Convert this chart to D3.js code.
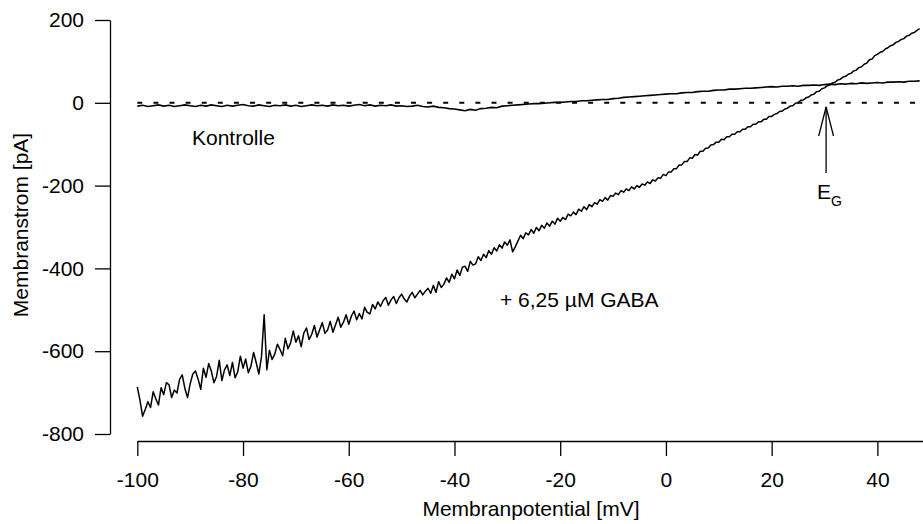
<!DOCTYPE html>
<html>
<head>
<meta charset="utf-8">
<script src="https://cdn.jsdelivr.net/npm/d3@7"></script>
<style>
  body { margin: 0; background: white; }
  text { font-family: "Liberation Sans", Arial, sans-serif; }
</style>
</head>
<body>
<script>
// voltage ramp: first sample and step in mV
var rampStart = -100, rampStep = 0.5, controlStep = 1;

// current with 6,25 µM GABA, one value every 0.5 mV (pA)
var gabaCurrent = [
  -686, -718, -757, -741, -722, -736, -698, -715, -730, -688, -705, -676,
  -681, -712, -694, -701, -668, -657, -690, -712, -679, -655, -648, -667,
  -692, -641, -663, -630, -648, -676, -661, -622, -671, -645, -633, -659,
  -627, -664, -650, -612, -641, -619, -652, -636, -603, -628, -655, -612,
  -512, -645, -598, -620, -607, -583, -596, -611, -569, -594, -580, -551,
  -578, -563, -589, -556, -544, -572, -559, -538, -566, -548, -531, -557,
  -549, -528, -554, -536, -518, -542, -530, -512, -535, -515, -503, -524,
  -509, -522, -494, -506, -510, -487, -498, -481, -492, -478, -470, -489,
  -476, -468, -485, -471, -462, -474, -481, -467, -458, -471, -462, -453,
  -464, -455, -448, -460, -441, -458, -432, -446, -438, -423, -434, -414,
  -425, -404, -417, -397, -395, -407, -383, -392, -389, -372, -381, -366,
  -374, -357, -366, -350, -358, -343, -351, -336, -344, -331, -360, -348,
  -334, -320, -328, -314, -319, -306, -315, -301, -309, -296, -303, -290,
  -298, -286, -293, -279, -286, -277, -282, -269, -273, -264, -270, -257,
  -262, -251, -258, -246, -251, -241, -245, -234, -238, -229, -235, -224,
  -226, -218, -222, -212, -216, -208, -212, -203, -208, -200, -204, -196,
  -199, -191, -195, -186, -189, -181, -182, -173, -176, -167, -167, -159,
  -159, -150, -150, -142, -142, -133, -134, -125, -126, -117, -117, -110,
  -109, -102, -101, -95, -95, -88, -89, -82, -82, -76, -76, -70,
  -70, -64, -64, -58, -58, -52, -52, -46, -46, -40, -40, -33,
  -33, -28, -26, -21, -20, -15, -13, -8, -7, -1, 0, 6,
  7, 12, 14, 19, 21, 27, 28, 34, 36, 41, 43, 48,
  50, 55, 57, 62, 64, 69, 71, 77, 79, 85, 87, 93,
  96, 104, 106, 114, 117, 122, 124, 130, 133, 138, 140, 146,
  148, 153, 155, 161, 163, 168, 170, 175, 179
];

// control current, one value every 1 mV (pA)
var controlCurrent = [
  -8, -6, -9, -7, -5, -8, -6, -9, -7, -5,
  -7, -9, -6, -8, -5, -7, -9, -6, -8, -6,
  -4, -7, -8, -5, -7, -9, -6, -7, -5, -8,
  -6, -9, -7, -5, -7, -6, -8, -5, -7, -6,
  -8, -6, -4, -7, -5, -8, -6, -7, -5, -8,
  -7, -9, -8, -6, -9, -10, -8, -11, -12, -14,
  -15, -17, -19, -16, -18, -14, -13, -11, -12, -8,
  -7, -6, -5, -4, -3, -2, -2, -1, 0, 1,
  1, 2, 3, 3, 5, 5, 6, 7, 8, 8,
  10, 11, 13, 14, 15, 16, 17, 18, 19, 20,
  21, 22, 22, 24, 25, 25, 27, 28, 28, 30,
  31, 31, 33, 33, 34, 35, 35, 36, 37, 38,
  39, 38, 40, 40, 41, 40, 42, 42, 43, 42,
  44, 45, 44, 46, 45, 47, 46, 48, 47, 48,
  49, 48, 50, 50, 51, 50, 52, 52, 53
];

var xTicks = [-100, -80, -60, -40, -20, 0, 20, 40];
var yTicks = [-800, -600, -400, -200, 0, 200];

var width = 923, height = 524;

var svg = d3.select("body").append("svg")
            .attr("width", width).attr("height", height)
            .style("background", "white");

var x = d3.scaleLinear().domain([-100, 48.63]).range([137.3, 923]);
var y = d3.scaleLinear().domain([-800, 200]).range([434, 20]);

// axes, plain hyphen for negative numbers
var fmt = function(d){ return String(d); };
svg.append("g").attr("transform", "translate(0,441)")
   .call(d3.axisBottom(x).tickValues(xTicks).tickFormat(fmt).tickSize(15).tickSizeOuter(0).tickPadding(16));
svg.append("g").attr("transform", "translate(110,0)")
   .call(d3.axisLeft(y).tickValues(yTicks).tickFormat(fmt).tickSize(15).tickSizeOuter(0).tickPadding(11));

svg.selectAll(".tick text").attr("font-size", "21px").attr("font-family", "Liberation Sans, Arial, sans-serif").attr("fill", "#000");
svg.selectAll(".domain, .tick line").attr("stroke", "#000").attr("stroke-width", 1.3);

svg.append("text")
   .attr("x", 531).attr("y", 516)
   .attr("text-anchor", "middle").attr("font-size", "21px")
   .text("Membranpotential [mV]");

svg.append("text")
   .attr("transform", "translate(28,225) rotate(-90)")
   .attr("text-anchor", "middle").attr("font-size", "21px")
   .text("Membranstrom [pA]");

// dotted zero line
svg.append("line")
   .attr("x1", x(-100)).attr("x2", width)
   .attr("y1", y(0)).attr("y2", y(0))
   .attr("stroke", "#000").attr("stroke-width", 2)
   .attr("stroke-dasharray", "5,11.1");

var lineGaba = d3.line()
                 .x(function(d, i){ return x(rampStart + i * rampStep); })
                 .y(function(d){ return y(d); });
var lineControl = d3.line()
                    .x(function(d, i){ return x(rampStart + i * controlStep); })
                    .y(function(d){ return y(d); });

svg.append("path").datum(controlCurrent)
   .attr("d", lineControl).attr("fill", "none")
   .attr("stroke", "#000").attr("stroke-width", 1.6);

svg.append("path").datum(gabaCurrent)
   .attr("d", lineGaba).attr("fill", "none")
   .attr("stroke", "#000").attr("stroke-width", 1.5)
   .attr("stroke-linejoin", "round");

// labels
svg.append("text").attr("x", 192).attr("y", 145).attr("font-size", "21px").text("Kontrolle");
svg.append("text").attr("x", 500).attr("y", 307).attr("font-size", "21px").text("+ 6,25 µM GABA");

// reversal potential arrow
var eg = 30.3;
var ax = x(eg);
svg.append("line").attr("x1", ax).attr("x2", ax).attr("y1", 107).attr("y2", 173)
   .attr("stroke", "#000").attr("stroke-width", 1.3);
svg.append("path")
   .attr("d", "M" + (ax - 7.4) + ",136 L" + ax + ",107 L" + (ax + 7.4) + ",136")
   .attr("fill", "none").attr("stroke", "#000").attr("stroke-width", 1.3);

var egLabel = svg.append("text").attr("x", ax - 9).attr("y", 199).attr("font-size", "21px");
egLabel.append("tspan").text("E");
egLabel.append("tspan").attr("font-size", "14px").attr("dy", 7).text("G");
</script>
</body>
</html>
